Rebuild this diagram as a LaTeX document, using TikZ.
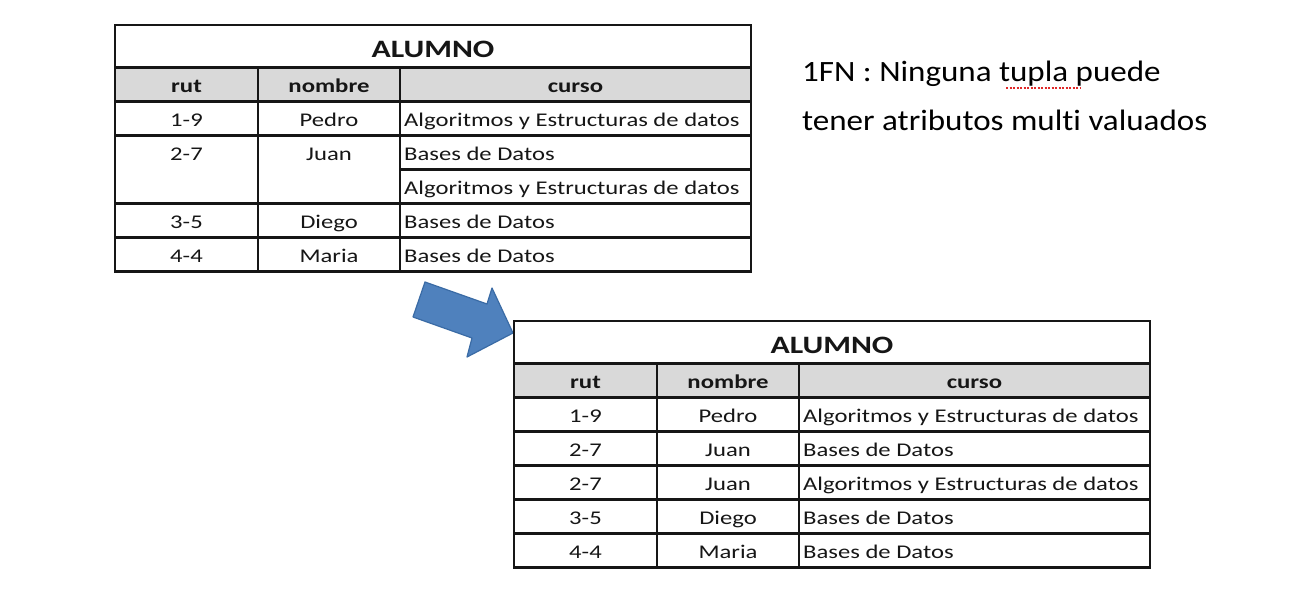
\documentclass[tikz,border=0pt]{standalone}
\usepackage{fontspec}
\setmainfont{Carlito}[Ligatures=NoCommon]
\newfontfamily\tabfont{Carlito}[FakeStretch=1.27,Ligatures=NoCommon]
\newfontfamily\notefont{Carlito}[FakeStretch=1.12,Ligatures=NoCommon]
\definecolor{headgray}{HTML}{D9D9D9}
\definecolor{arrowblue}{HTML}{4F81BD}
\definecolor{arrowedge}{HTML}{3A6BA5}
\definecolor{ink}{HTML}{161616}
\definecolor{spellred}{HTML}{E02828}
\begin{document}
\begin{tikzpicture}[x=1pt,y=-1pt,
  grid/.style={draw=ink, line width=2.3pt},
  ttl/.style={font=\tabfont\fontsize{25}{25}\selectfont\bfseries, inner sep=0, anchor=base, text=ink},
  head/.style={font=\tabfont\fontsize{19.5}{19.5}\selectfont\bfseries, inner sep=0, anchor=base, text=ink},
  cellc/.style={font=\tabfont\fontsize{19.4}{19.4}\selectfont, inner sep=0, anchor=base, text=ink},
  celll/.style={cellc, anchor=base west},
  note/.style={font=\notefont\fontsize{29.5}{29.5}\selectfont, inner sep=0, anchor=base west, text=black},
  blockarrow/.style={fill=arrowblue, draw=arrowedge, line width=1.2pt, line join=round},
  spell/.style={draw=spellred, line width=1.8pt, dash pattern=on 2pt off 1.5pt}]
\useasboundingbox (0,0) rectangle (1314,598);
\fill[white] (0,0) rectangle (1314,598);

% ---------- top table ----------
\fill[headgray] (115,67.5) rectangle (751,101.5);
\draw[grid] (115,25) rectangle (751,271.5);
\draw[grid] (115,67.5) -- (751,67.5);
\draw[grid] (115,101.5) -- (751,101.5);
\draw[grid] (115,135.5) -- (751,135.5);
\draw[grid] (400,169.5) -- (751,169.5);
\draw[grid] (115,203.5) -- (751,203.5);
\draw[grid] (115,237.5) -- (751,237.5);
\draw[grid] (258,67.5) -- (258,271.5);
\draw[grid] (400,67.5) -- (400,271.5);

\node[ttl] (tT) at (433,57) {ALUMNO};
\node[head] (tH1) at (186.5,92.5) {rut};
\node[head] (tH2) at (329,92.5) {nombre};
\node[head] (tH3) at (575.5,92.5) {curso};
\node[cellc] (tA1) at (186.5,126.5) {1-9};
\node[cellc] (tB1) at (329,126.5) {Pedro};
\node[celll] (tC1) at (404,126.5) {Algoritmos y Estructuras de datos};
\node[cellc] (tA2) at (186.5,160.5) {2-7};
\node[cellc] (tB2) at (329,160.5) {Juan};
\node[celll] (tC2) at (404,160.5) {Bases de Datos};
\node[celll] (tC3) at (404,194.5) {Algoritmos y Estructuras de datos};
\node[cellc] (tA4) at (186.5,228.5) {3-5};
\node[cellc] (tB4) at (329,228.5) {Diego};
\node[celll] (tC4) at (404,228.5) {Bases de Datos};
\node[cellc] (tA5) at (186.5,262.5) {4-4};
\node[cellc] (tB5) at (329,262.5) {Maria};
\node[celll] (tC5) at (404,262.5) {Bases de Datos};

% ---------- arrow ----------
\draw[blockarrow] (425,282) -- (487,304) -- (492,288) -- (513,333) -- (467,357) -- (472,338) -- (413,317) -- cycle;

% ---------- bottom table ----------
\begin{scope}[shift={(399,296)}]
\fill[headgray] (115,67.5) rectangle (751,101.5);
\draw[grid] (115,25) rectangle (751,271.5);
\draw[grid] (115,67.5) -- (751,67.5);
\draw[grid] (115,101.5) -- (751,101.5);
\draw[grid] (115,135.5) -- (751,135.5);
\draw[grid] (115,169.5) -- (751,169.5);
\draw[grid] (115,203.5) -- (751,203.5);
\draw[grid] (115,237.5) -- (751,237.5);
\draw[grid] (258,67.5) -- (258,271.5);
\draw[grid] (400,67.5) -- (400,271.5);

\node[ttl] (bT) at (433,57) {ALUMNO};
\node[head] (bH1) at (186.5,92.5) {rut};
\node[head] (bH2) at (329,92.5) {nombre};
\node[head] (bH3) at (575.5,92.5) {curso};
\node[cellc] (bA1) at (186.5,126.5) {1-9};
\node[cellc] (bB1) at (329,126.5) {Pedro};
\node[celll] (bC1) at (404,126.5) {Algoritmos y Estructuras de datos};
\node[cellc] (bA2) at (186.5,160.5) {2-7};
\node[cellc] (bB2) at (329,160.5) {Juan};
\node[celll] (bC2) at (404,160.5) {Bases de Datos};
\node[cellc] (bA3) at (186.5,194.5) {2-7};
\node[cellc] (bB3) at (329,194.5) {Juan};
\node[celll] (bC3) at (404,194.5) {Algoritmos y Estructuras de datos};
\node[cellc] (bA4) at (186.5,228.5) {3-5};
\node[cellc] (bB4) at (329,228.5) {Diego};
\node[celll] (bC4) at (404,228.5) {Bases de Datos};
\node[cellc] (bA5) at (186.5,262.5) {4-4};
\node[cellc] (bB5) at (329,262.5) {Maria};
\node[celll] (bC5) at (404,262.5) {Bases de Datos};
\end{scope}

% ---------- note ----------
\node[note] (n1) at (802,81.7) {1FN : Ninguna tupla puede};
\node[note] (n2) at (802,130) {tener atributos multi valuados};
\draw[spell] (1006,88) -- (1080,88);
\end{tikzpicture}
\end{document}
